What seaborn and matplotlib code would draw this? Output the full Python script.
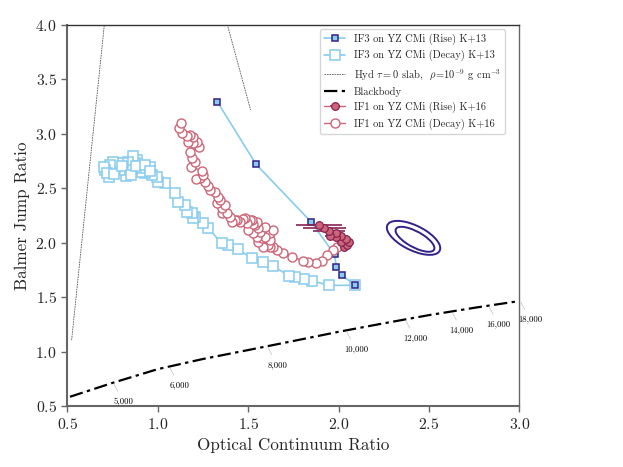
import numpy as np
import pandas as pd
import matplotlib
matplotlib.use("Agg")
import matplotlib.pyplot as plt
from matplotlib.patches import Ellipse
import seaborn as sns

### data ###
# IF3 on YZ CMi, rise phase (filled squares)
if3_rise_x = [1.330, 1.544, 1.848, 1.978, 1.988, 2.019, 2.093]
if3_rise_y = [3.292, 2.719, 2.192, 1.894, 1.777, 1.701, 1.610]

# IF3 on YZ CMi, decay phase (open squares)
if3_dec_x = [2.093, 1.947, 1.852, 1.809, 1.759, 1.728, 1.639, 1.584, 1.520, 1.446,
             1.391, 1.354, 1.280, 1.252, 1.206, 1.197, 1.188, 1.160, 1.151, 1.114,
             1.096, 1.040, 1.003, 0.994, 0.967, 0.957, 0.930, 0.911, 0.902, 0.884,
             0.874, 0.865, 0.856, 0.837, 0.828, 0.825, 0.810, 0.791, 0.782, 0.764,
             0.754, 0.736, 0.732, 0.709, 0.703, 0.720, 0.760, 0.800, 0.850, 0.880,
             0.930, 0.960]
if3_dec_y = [1.610, 1.610, 1.652, 1.670, 1.683, 1.695, 1.786, 1.826, 1.857, 1.940,
             1.979, 1.995, 2.132, 2.178, 2.238, 2.224, 2.269, 2.284, 2.346, 2.376,
             2.453, 2.544, 2.559, 2.605, 2.621, 2.697, 2.636, 2.651, 2.682, 2.758,
             2.728, 2.795, 2.682, 2.742, 2.666, 2.611, 2.733, 2.666, 2.728, 2.682,
             2.742, 2.712, 2.599, 2.666, 2.697, 2.640, 2.630, 2.700, 2.620, 2.700,
             2.710, 2.660]

# IF1 on YZ CMi, rise phase (filled circles with x errors)
if1_rise_x = [2.032, 2.049, 2.060, 2.012, 2.040, 2.012, 1.984, 1.984, 1.953, 1.947, 1.921, 1.894]
if1_rise_y = [1.963, 1.979, 2.009, 2.009, 2.031, 2.061, 2.050, 2.092, 2.061, 2.107, 2.132, 2.165]
if1_rise_xerr = [0.015, 0.015, 0.015, 0.015, 0.015, 0.02, 0.02, 0.02, 0.03, 0.09, 0.12, 0.127]

# IF1 on YZ CMi, decay phase (open circles), listed from the top end
if1_dec_x = [1.127, 1.119, 1.133, 1.160, 1.179, 1.197, 1.169, 1.194, 1.216, 1.230,
             1.179, 1.188, 1.206, 1.183, 1.243, 1.252, 1.212, 1.234, 1.262, 1.280,
             1.289, 1.317, 1.335, 1.345, 1.326, 1.372, 1.354, 1.382, 1.354, 1.400,
             1.409, 1.428, 1.440, 1.455, 1.474, 1.483, 1.492, 1.510, 1.520, 1.529,
             1.548, 1.538, 1.556, 1.594, 1.639, 1.501, 1.529, 1.566, 1.548, 1.594,
             1.575, 1.621, 1.594, 1.621, 1.556, 1.584, 1.612, 1.621, 1.639, 1.658,
             1.695, 1.741, 1.805, 1.833, 1.874, 1.907, 1.935, 1.971, 1.990]
if1_dec_y = [3.094, 3.049, 3.003, 2.978, 2.987, 2.972, 2.926, 2.911, 2.926, 2.874,
             2.834, 2.774, 2.742, 2.697, 2.660, 2.621, 2.581, 2.590, 2.559, 2.520,
             2.483, 2.468, 2.422, 2.391, 2.361, 2.345, 2.315, 2.270, 2.275, 2.238,
             2.192, 2.208, 2.208, 2.192, 2.214, 2.224, 2.178, 2.208, 2.208, 2.171,
             2.192, 2.162, 2.132, 2.147, 2.116, 2.116, 2.086, 2.101, 2.055, 2.055,
             2.040, 2.086, 2.071, 2.025, 2.010, 1.963, 1.979, 1.963, 1.958, 1.933,
             1.903, 1.872, 1.835, 1.826, 1.817, 1.832, 1.887, 1.933, 1.963]

# Hyd tau=0 slab model curves
hyd1_x = [0.524, 0.705]
hyd1_y = [1.108, 4.000]
hyd2_x = [1.385, 1.514]
hyd2_y = [4.000, 3.216]

# blackbody curve and temperature marks
bb_x = [0.515, 0.75, 1.0, 1.25, 1.5, 1.75, 2.0, 2.25, 2.5, 2.75, 3.0, 3.1]
bb_y = [0.589, 0.716, 0.842, 0.935, 1.017, 1.100, 1.184, 1.262, 1.337, 1.404, 1.466, 1.49]
bb_T = ["5,000", "6,000", "8,000", "10,000", "12,000", "14,000", "16,000", "18,000"]
bb_T_x = [0.754, 1.064, 1.606, 2.041, 2.368, 2.626, 2.829, 3.004]

# observed contours (centre x, centre y, width, height, angle)
ell_cx = [2.415, 2.423]
ell_cy = [2.045, 2.032]
ell_w = [0.385, 0.290]
ell_h = [0.190, 0.120]
ell_ang = [-47.5, -47.5]

### colours (Tol muted)
indigo = "#332288"
cyan = "#88CCEE"
wine = "#882255"
rose = "#CC6677"

sns.set_style("ticks")
plt.rcParams["font.family"] = "serif"
plt.rcParams["font.serif"] = ["cmr10", "DejaVu Serif"]
plt.rcParams["mathtext.fontset"] = "cm"
plt.rcParams["axes.formatter.use_mathtext"] = True

fig = plt.figure(figsize=(6.23, 4.67), dpi=100)
ax = fig.add_axes([0.108, 0.1296, 0.7256, 0.8179])

# model curves
hyd_lab = r"Hyd $\tau=0$ slab,  $\rho\!=\!10^{-9}$ g cm$^{-3}$"
sns.lineplot(x=hyd1_x, y=hyd1_y, sort=False, estimator=None, ax=ax, color="0.35",
             lw=0.6, linestyle=(0, (2, 1)), label=hyd_lab)
sns.lineplot(x=hyd2_x, y=hyd2_y, sort=False, estimator=None, ax=ax, color="0.35",
             lw=0.6, linestyle=(0, (2, 1)))
sns.lineplot(x=bb_x, y=bb_y, sort=False, estimator=None, ax=ax, color="k",
             lw=1.6, linestyle=(0, (6, 2, 1.5, 2)), label="Blackbody")

bb_T_y = np.interp(bb_T_x, bb_x, bb_y)
for lab, tx, ty in zip(bb_T, bb_T_x, bb_T_y):
    ax.annotate(lab, xy=(tx, ty), xytext=(7.2, -13.3), textcoords="offset points",
                ha="center", va="center", fontsize=6.3, color="k", annotation_clip=False,
                zorder=5,
                arrowprops=dict(arrowstyle="-", color="0.75", lw=0.5,
                                shrinkA=2, shrinkB=1))

# IF3 decay and rise
sns.lineplot(x=if3_dec_x, y=if3_dec_y, sort=False, estimator=None, ax=ax, color=cyan,
             lw=1.2, marker="s", ms=6.5, mfc="white", mec=cyan, mew=1.1,
             label="IF3 on YZ CMi (Decay) K+13")
sns.lineplot(x=if3_rise_x, y=if3_rise_y, sort=False, estimator=None, ax=ax, color=cyan,
             lw=1.2, marker="s", ms=5, mfc=cyan, mec=indigo, mew=1.1,
             label="IF3 on YZ CMi (Rise) K+13")

# IF1 decay and rise
sns.lineplot(x=if1_dec_x[::-1], y=if1_dec_y[::-1], sort=False, estimator=None, ax=ax,
             color=rose, lw=1.0, marker="o", ms=6.5, mfc="white", mec=rose, mew=1.0,
             label="IF1 on YZ CMi (Decay) K+16")
ax.errorbar(if1_rise_x, if1_rise_y, xerr=if1_rise_xerr, fmt="-o", color=rose, lw=1.0,
            ms=5.5, mfc=rose, mec=wine, mew=0.9, ecolor=wine, elinewidth=1.2,
            capsize=0, label="IF1 on YZ CMi (Rise) K+16")

for cx, cy, w, h, a in zip(ell_cx, ell_cy, ell_w, ell_h, ell_ang):
    ax.add_patch(Ellipse((cx, cy), w, h, angle=a, fill=False, ec=indigo, lw=1.4))

ax.set_xlim(0.5, 3.0)
ax.set_ylim(0.5, 4.0)
ax.set_xticks(np.arange(0.5, 3.01, 0.5))
ax.set_yticks(np.arange(0.5, 4.01, 0.5))
ax.set_xlabel("Optical Continuum Ratio", fontsize=12.3)
ax.set_ylabel("Balmer Jump Ratio", fontsize=12.3)
ax.tick_params(labelsize=11.3, color="0.4", length=4, width=1)
for side, s in ax.spines.items():
    s.set_visible(True)
    s.set_color("0.4")
    s.set_linewidth(1.5)
ax.spines["right"].set_linewidth(1.0)
ax.spines["top"].set_color("0.2")
ax.spines["top"].set_linewidth(1.0)

handles, labels = ax.get_legend_handles_labels()
hmap = dict(zip(labels, handles))
order = ["IF3 on YZ CMi (Rise) K+13", "IF3 on YZ CMi (Decay) K+13", hyd_lab,
         "Blackbody", "IF1 on YZ CMi (Rise) K+16", "IF1 on YZ CMi (Decay) K+16"]
ax.legend([hmap[k] for k in order], order, loc="upper right",
          bbox_to_anchor=(0.968, 0.987), fontsize=7.5, borderaxespad=0,
          labelspacing=0.5, handlelength=2.0, frameon=True)

plt.savefig("out.png", dpi=100)
